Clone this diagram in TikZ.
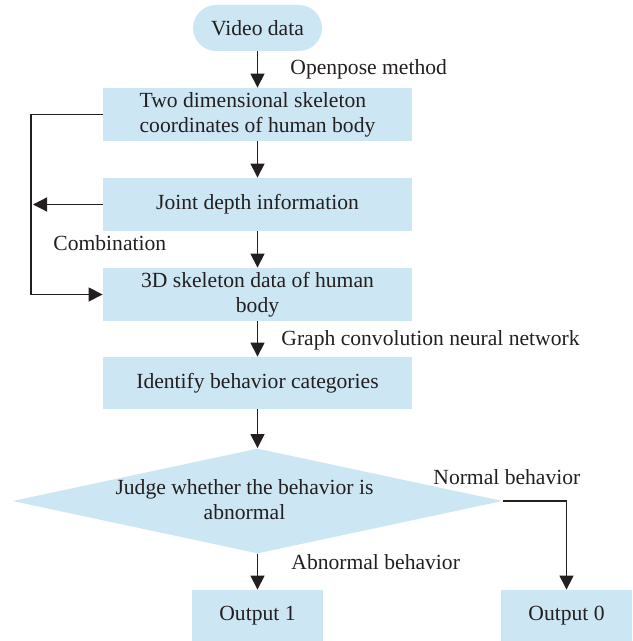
\documentclass[tikz,border=0pt]{standalone}
\usepackage{fontspec}
\setmainfont{Liberation Serif}
\usetikzlibrary{arrows.meta,shapes.geometric,positioning}
\definecolor{boxblue}{RGB}{205,230,243}
\definecolor{inkgray}{RGB}{35,31,32}

\begin{document}
\begin{tikzpicture}[x=0.5pt,y=-0.5pt,
		font=\fontsize{10.8}{12.5}\selectfont, text=inkgray,
		proc/.style={rectangle, fill=boxblue, minimum width=154.5pt, minimum height=26.5pt, inner sep=0pt, align=center},
		outbox/.style={proc, minimum width=65.5pt, minimum height=25.5pt},
		flow/.style={draw=inkgray, line width=0.6pt, -{Triangle[length=7pt,width=7pt]}},
		note/.style={anchor=west, inner sep=0pt}]
		\useasboundingbox (0,0) rectangle (632,641);
		% flow boxes
		\node [proc, rounded corners=11.5pt, minimum width=64.5pt, minimum height=23pt] (video) at (257.5,28) {Video data};
		\node [proc, align=left] (skel2d) at (257.5,114.5) {Two dimensional skeleton\\coordinates of human body};
		\node [proc] (depth) at (257.5,204.5) {Joint depth information};
		\node [proc] (skel3d) at (257.5,294.5) {3D skeleton data of human\\body};
		\node [proc, minimum height=26pt] (classify) at (257.5,383) {Identify behavior categories};
		\node [diamond, fill=boxblue, minimum width=245pt, minimum height=52.5pt, inner sep=0pt] (judge) at (257.5,501)
			{\makebox[0pt]{\hspace*{-13pt}\raisebox{-3pt}[0pt][0pt]{\begin{tabular}{@{}c@{}}Judge whether the behavior is\\abnormal\end{tabular}}}};
		\node [outbox] (out1) at (257.5,615.5) {Output 1};
		\node [outbox] (out0) at (566.5,615.5) {Output 0};
		% side labels
		\node [note] (openpose) at (290,69) {Openpose method};
		\node [note] (combo) at (53,243) {Combination};
		\node [note] (gcn) at (281,340) {Graph convolution neural network};
		\node [note] (normal) at (433,477) {Normal behavior};
		\node [note] (abnormal) at (291,562) {Abnormal behavior};
		% connectors
		\coordinate (bend) at (31,114.5);
		\coordinate (merge) at (33,204.5);
		\draw [flow] (video) -- (skel2d);
		\draw [flow] (skel2d) -- (depth);
		\draw [flow] (depth) -- (skel3d);
		\draw [flow] (skel3d) -- (classify);
		\draw [flow] (classify) -- (judge);
		\draw [flow] (judge) -- (out1);
		\draw [flow] (judge.east) -| (out0);
		\draw [flow] (depth.west) -- (merge);
		\draw [flow] (skel2d.west) -- (bend) |- (skel3d.west);
	\end{tikzpicture}
\end{document}
